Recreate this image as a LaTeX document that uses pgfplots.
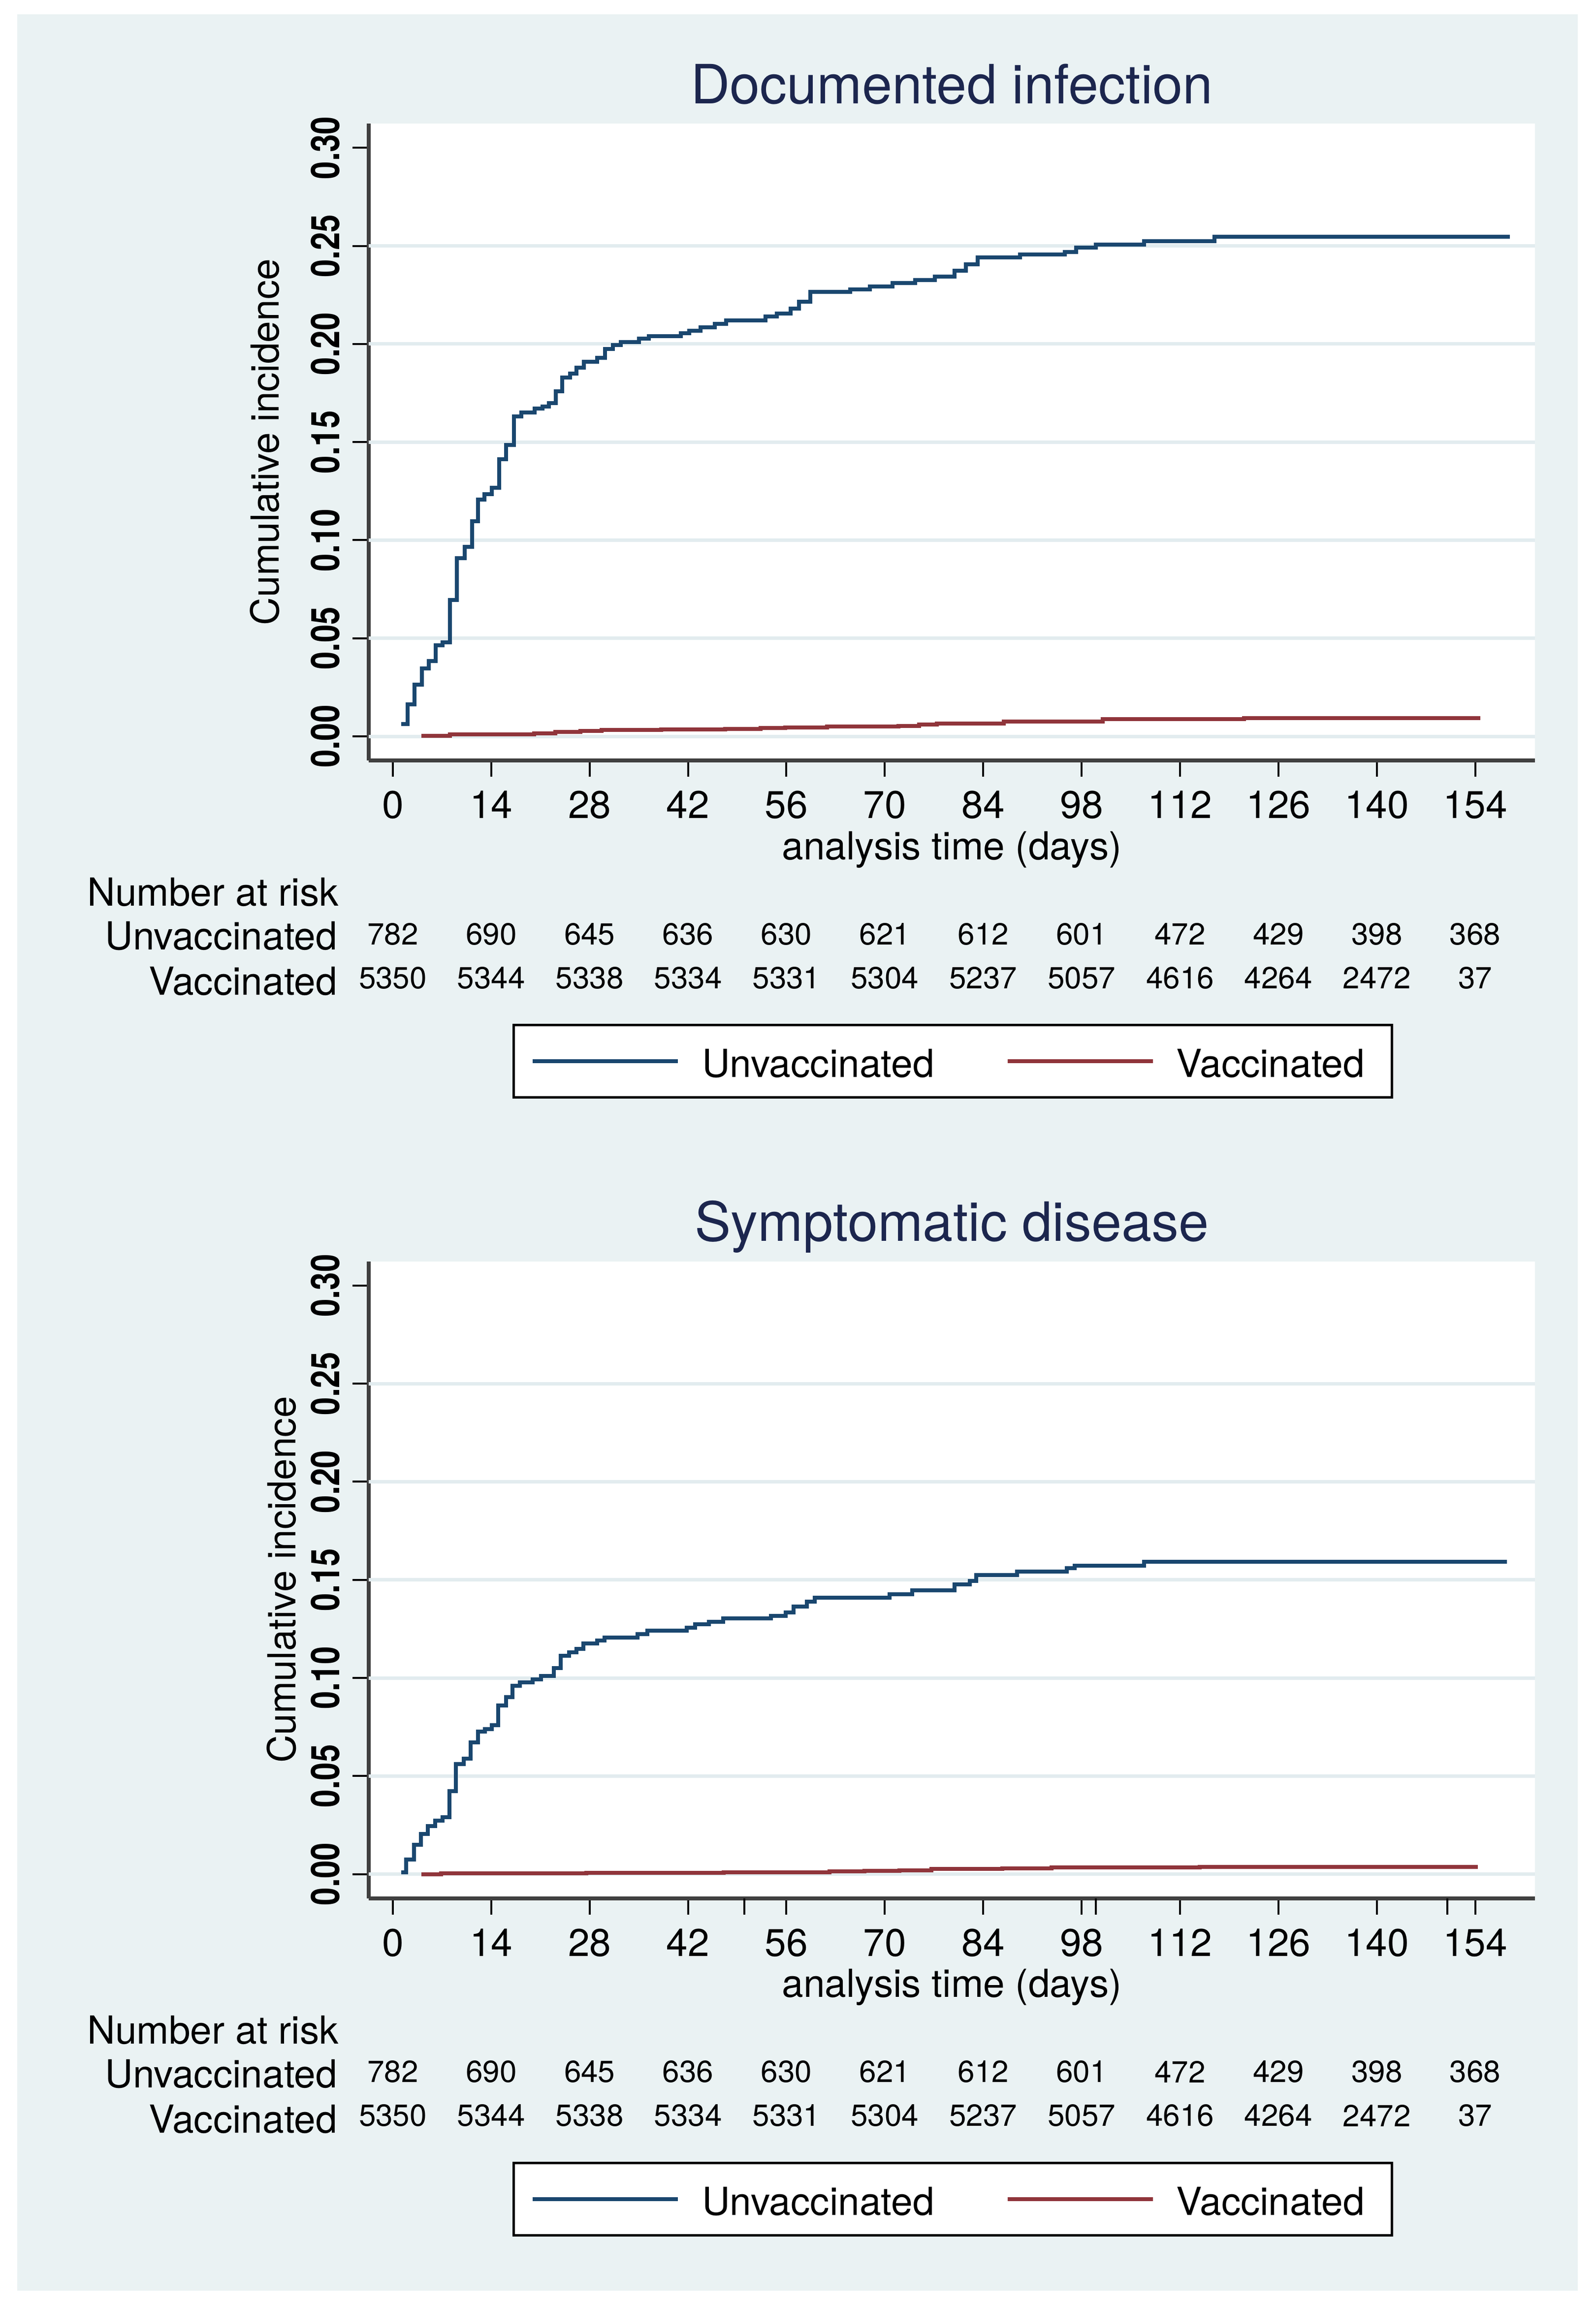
\documentclass[border=0pt]{standalone}
\usepackage{fontspec}
\setmainfont{TeX Gyre Heros}
\usepackage{pgfplots}
\usepackage{pgfplotstable}
\pgfplotsset{compat=1.18}

\definecolor{stbg}{RGB}{234,242,243}
\definecolor{stgrid}{RGB}{226,236,239}
\definecolor{stnavy}{RGB}{26,71,111}
\definecolor{stmaroon}{RGB}{144,53,59}
\definecolor{sttitle}{RGB}{28,38,78}
\newcommand\txt{\fontsize{7.85}{9}\selectfont}
\newcommand\numtxt{\fontsize{6.2}{7}\selectfont}

% numbers at risk, same in both panels
\pgfplotstableread{
x   y        n
0   -0.10086 782
14  -0.10086 690
28  -0.10086 645
42  -0.10086 636
56  -0.10086 630
70  -0.10086 621
84  -0.10086 612
98  -0.10086 601
112 -0.10086 472
126 -0.10086 429
140 -0.10086 398
154 -0.10086 368
0   -0.12319 5350
14  -0.12319 5344
28  -0.12319 5338
42  -0.12319 5334
56  -0.12319 5331
70  -0.12319 5304
84  -0.12319 5237
98  -0.12319 5057
112 -0.12319 4616
126 -0.12319 4264
140 -0.12319 2472
154 -0.12319 37
}\risktab

\pgfplotsset{
  kmstyle/.style={
    scale only axis, width=236.9pt, height=129.4pt,
    anchor=south west, clip=false,
    xmin=-3.43, xmax=162.5, ymin=-0.0123, ymax=0.3124,
    axis x line*=bottom, axis y line*=left,
    axis line style={-, black!75, line width=0.8pt},
    axis background/.style={fill=white},
    xtick={0,14,28,42,56,70,84,98,112,126,140,154},
    ytick={0,0.05,0.1,0.15,0.2,0.25,0.3},
    extra y ticks={0,0.05,0.1,0.15,0.2,0.25},
    extra y tick labels={,,,,,},
    extra y tick style={ymajorgrids=true, major tick length=0pt},
    grid style={stgrid, line width=0.7pt},
    tick align=outside, major tick length=3.3pt,
    tick style={black, line width=0.4pt},
    /pgf/number format/assume math mode=true,
    xticklabel style={font=\txt, inner sep=0pt, anchor=north, yshift=-2.7pt},
    yticklabel style={/pgf/number format/fixed, /pgf/number format/fixed zerofill,
      /pgf/number format/precision=2, font=\bfseries\fontsize{8}{9}\selectfont,
      inner sep=0pt, xshift=-2.4pt, rotate=90, xscale=0.82, anchor=south},
    title style={at={(axis description cs:0.5,1)}, anchor=base, yshift=-1.9pt,
      inner sep=0pt, font=\fontsize{11}{13}\selectfont, text=sttitle},
    xlabel={analysis time (days)},
    xlabel style={at={(axis description cs:0.5,0)}, anchor=base, yshift=-20.1pt,
      inner sep=0pt, font=\txt},
    ylabel={Cumulative incidence},
    ylabel style={anchor=center, inner sep=0pt, font=\txt},
    legend columns=2,
    legend style={at={(axis description cs:0.12326,-0.41345)}, anchor=north west,
      draw=black, line width=0.5pt, fill=white, inner xsep=3.4pt, inner ysep=4.1pt,
      font=\txt, nodes={inner sep=0pt, text height=6.5pt, text depth=0pt},
      /tikz/column 1/.style={column sep=4.6pt},
      /tikz/column 2/.style={column sep=14.5pt},
      /tikz/column 3/.style={column sep=4.4pt}},
    legend image code/.code={\draw[#1] (0pt,0pt) -- (29.5pt,0pt);},
  },
  unvac/.style={const plot, mark=none, color=stnavy, line width=0.8pt},
  vac/.style={const plot, mark=none, color=stmaroon, line width=0.8pt},
}

\newcommand\risktable{%
  \addplot[forget plot, draw=none, mark=none, nodes near coords,
    point meta=explicit symbolic,
    nodes near coords style={anchor=center, inner sep=0pt, font=\numtxt}]
    table[x=x, y=y, meta=n] {\risktab};
  \node[anchor=base west, inner sep=0pt, font=\txt] at (axis cs:-43.6,-0.08656) {Number at risk};
  \node[anchor=base east, inner sep=0pt, font=\txt] at (axis cs:-7.77,-0.10889) {Unvaccinated};
  \node[anchor=base east, inner sep=0pt, font=\txt] at (axis cs:-7.77,-0.13197) {Vaccinated};
}

\begin{document}
\begin{tikzpicture}
\useasboundingbox (0,0) rectangle (324.1pt,-468.1pt);
\fill[white] (0,0) rectangle (324.1pt,-468.1pt);
\fill[stbg] (3.5pt,-2.9pt) rectangle (320.5pt,-465.4pt);

\begin{axis}[kmstyle, at={(74.9pt,-154.5pt)},
  title={Documented infection},
  ylabel style={at={(axis description cs:-0.0891,0.5)}}]
\addplot[unvac] coordinates {
  (1.2,0.0062) (2.1,0.0163) (3.1,0.0263) (4.1,0.0346) (5.1,0.0385)
  (6.1,0.0465) (7.1,0.0480) (8.1,0.0694) (9.1,0.0908) (10.2,0.0965)
  (11.3,0.1096) (12.1,0.1206) (13.0,0.1235) (14.1,0.1267) (15.1,0.1413)
  (16.1,0.1485) (17.2,0.1630) (18.3,0.1650) (20.2,0.1670) (21.3,0.1680)
  (22.2,0.1700) (23.2,0.1760) (24.1,0.1830) (25.2,0.1850) (26.1,0.1880)
  (27.2,0.1910) (29.1,0.1930) (30.2,0.1975) (31.3,0.1996) (32.4,0.2010)
  (35.0,0.2027) (36.4,0.2040) (41.0,0.2054) (42.2,0.2068) (43.8,0.2085)
  (45.8,0.2104) (47.4,0.2121) (53.0,0.2140) (54.6,0.2156) (56.6,0.2181)
  (57.8,0.2215) (59.4,0.2265) (65.1,0.2278) (67.9,0.2294) (71.1,0.2311)
  (74.3,0.2326) (77.1,0.2344) (79.9,0.2374) (81.5,0.2407) (83.2,0.2441)
  (89.2,0.2457) (95.6,0.2470) (97.2,0.2491) (100.0,0.2506) (106.9,0.2524)
  (116.9,0.2548) (158.9,0.2548)
};
\addlegendentry{Unvaccinated}
\addplot[vac] coordinates {
  (4.05,0.0003) (8.1,0.0009) (20.1,0.0015) (23.1,0.0022) (26.7,0.0028)
  (29.7,0.0032) (38.2,0.0034) (47.3,0.0038) (52.3,0.0042) (55.8,0.0045)
  (61.8,0.0049) (71.9,0.0053) (74.9,0.0059) (77.4,0.0065) (86.9,0.0075)
  (101.0,0.0087) (121.1,0.0092) (154.7,0.0092)
};
\addlegendentry{\hbox{Vaccinated\kern2.1pt}}
\risktable
\end{axis}

\begin{axis}[kmstyle, at={(74.9pt,-385.65pt)},
  title={Symptomatic disease},
  extra x ticks={50,100,150}, extra x tick labels={,,},
  ylabel style={at={(axis description cs:-0.0746,0.5)}}]
\addplot[unvac] coordinates {
  (1.2,0.0010) (1.9,0.0075) (3.0,0.0150) (4.0,0.0205) (5.0,0.0244)
  (6.0,0.0272) (7.05,0.0290) (8.05,0.0424) (9.0,0.0560) (10.1,0.0589)
  (11.1,0.0671) (12.1,0.0726) (13.1,0.0740) (14.1,0.0758) (15.0,0.0859)
  (16.1,0.0902) (17.0,0.0961) (18.1,0.0978) (19.9,0.0993) (21.1,0.1010)
  (22.9,0.1050) (23.9,0.1112) (25.1,0.1130) (26.1,0.1147) (27.1,0.1176)
  (29.1,0.1190) (30.1,0.1206) (34.8,0.1223) (36.2,0.1241) (41.8,0.1256)
  (43.0,0.1274) (45.0,0.1285) (47.0,0.1303) (53.8,0.1316) (55.9,0.1334)
  (57.0,0.1365) (58.9,0.1390) (60.0,0.1410) (70.7,0.1427) (73.9,0.1446)
  (79.9,0.1477) (82.1,0.1494) (83.0,0.1525) (88.8,0.1543) (95.9,0.1559)
  (97.0,0.1572) (106.9,0.1592) (158.5,0.1592)
};
\addlegendentry{Unvaccinated}
\addplot[vac] coordinates {
  (4.05,0.0000) (6.9,0.0004) (27.5,0.0007) (47.1,0.0009) (62.1,0.0013)
  (67.1,0.0016) (72.1,0.0018) (76.6,0.0027) (86.7,0.0030) (93.7,0.0033)
  (101.7,0.0035) (114.8,0.0037) (154.4,0.0037)
};
\addlegendentry{\hbox{Vaccinated\kern2.1pt}}
\risktable
\end{axis}
\end{tikzpicture}
\end{document}
